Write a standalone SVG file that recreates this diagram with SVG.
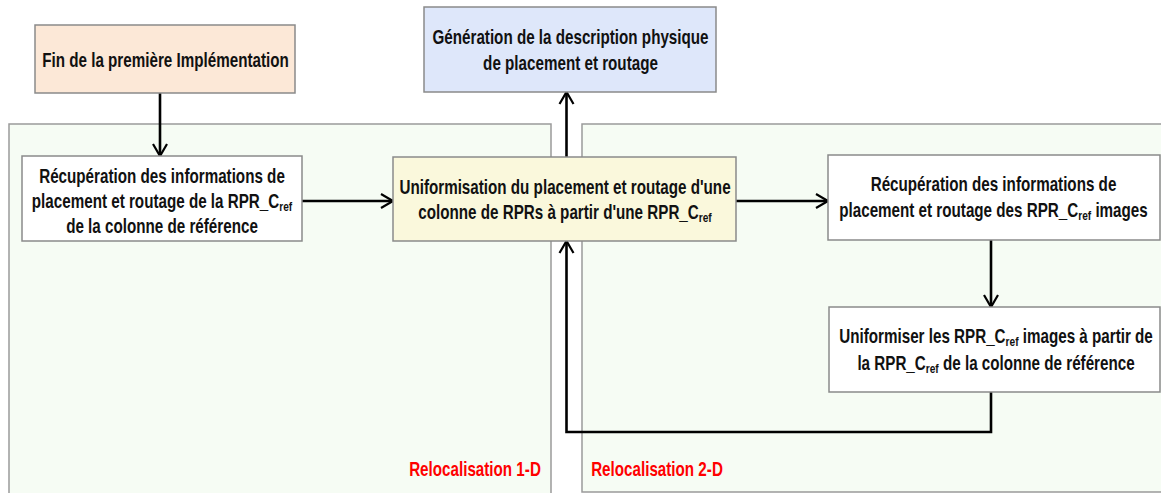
<svg xmlns="http://www.w3.org/2000/svg" width="1161" height="493" viewBox="0 0 1161 493">
<style>
.t{font-family:"Liberation Sans",Arial,sans-serif;font-weight:bold;font-size:19.5px;text-anchor:middle;fill:#111}
.s{font-size:13px}
.red{fill:#ff0000}
.box{stroke:#8a8a8a;stroke-width:1.5}
.cont{fill:#f6fcf4;stroke:#9a9a9a;stroke-width:1.5}
.edge{fill:none;stroke:#000;stroke-width:2.6}
</style>
<defs>
<marker id="arr" markerUnits="userSpaceOnUse" markerWidth="20" markerHeight="20" viewBox="-15 -10 17 20" refX="0" refY="0" orient="auto">
<path d="M-12,-7 L0,0 L-12,7" fill="none" stroke="#000" stroke-width="2.2"/>
</marker>
</defs>
<rect width="1161" height="493" fill="#ffffff"/>
<g id="container-1d">
<rect class="cont" x="9" y="124" width="542" height="380"/>
<text class="t red" transform="translate(475,476) scale(0.78,1)">Relocalisation 1-D</text>
</g>
<g id="container-2d">
<rect class="cont" x="582" y="124" width="600" height="368"/>
<text class="t red" transform="translate(657,476) scale(0.78,1)">Relocalisation 2-D</text>
</g>
<g id="connectors">
<line class="edge" x1="160" y1="93" x2="160" y2="156" marker-end="url(#arr)"/>
<line class="edge" x1="302" y1="201" x2="393" y2="201" marker-end="url(#arr)"/>
<line class="edge" x1="566.5" y1="157" x2="566.5" y2="92" marker-end="url(#arr)"/>
<line class="edge" x1="736" y1="201" x2="828" y2="201" marker-end="url(#arr)"/>
<line class="edge" x1="991" y1="240" x2="991" y2="307" marker-end="url(#arr)"/>
<polyline class="edge" points="991,392 991,432 566.5,432 566.5,241" marker-end="url(#arr)"/>
</g>
<g id="fin">
<rect class="box" x="35" y="25" width="260" height="68" fill="#fce8d7"/>
<text class="t" transform="translate(165.5,67) scale(0.78,1)">Fin de la première Implémentation</text>
</g>
<g id="generation">
<rect class="box" x="424" y="7" width="292" height="85" fill="#dee7fa"/>
<text class="t" transform="translate(570.5,43.5) scale(0.78,1)">Génération de la description physique</text>
<text class="t" transform="translate(570.5,69.5) scale(0.78,1)">de placement et routage</text>
</g>
<g id="recup-ref">
<rect class="box" x="22" y="156" width="280" height="85" fill="#ffffff"/>
<text class="t" transform="translate(162,183) scale(0.78,1)">Récupération des informations de</text>
<text class="t" transform="translate(162,208) scale(0.78,1)">placement et routage de la RPR_C<tspan class="s" dy="3">ref</tspan></text>
<text class="t" transform="translate(162,233) scale(0.78,1)">de la colonne de référence</text>
</g>
<g id="uniformisation">
<rect class="box" x="393" y="157" width="343" height="84" fill="#faf8dc"/>
<text class="t" transform="translate(565,193.5) scale(0.78,1)">Uniformisation du placement et routage d'une</text>
<text class="t" transform="translate(565,218.5) scale(0.78,1)">colonne de RPRs à partir d'une RPR_C<tspan class="s" dy="3">ref</tspan></text>
</g>
<g id="recup-images">
<rect class="box" x="828" y="155" width="332" height="85" fill="#ffffff"/>
<text class="t" transform="translate(993.5,190.5) scale(0.78,1)">Récupération des informations de</text>
<text class="t" transform="translate(993.5,216.5) scale(0.78,1)">placement et routage des RPR_C<tspan class="s" dy="3">ref</tspan><tspan dy="-3"> images</tspan></text>
</g>
<g id="uniformiser">
<rect class="box" x="829" y="307" width="331" height="85" fill="#ffffff"/>
<text class="t" transform="translate(996,342.5) scale(0.78,1)">Uniformiser les RPR_C<tspan class="s" dy="3">ref</tspan><tspan dy="-3"> images à partir de</tspan></text>
<text class="t" transform="translate(996,369.5) scale(0.78,1)">la RPR_C<tspan class="s" dy="3">ref</tspan><tspan dy="-3"> de la colonne de référence</tspan></text>
</g>
</svg>
